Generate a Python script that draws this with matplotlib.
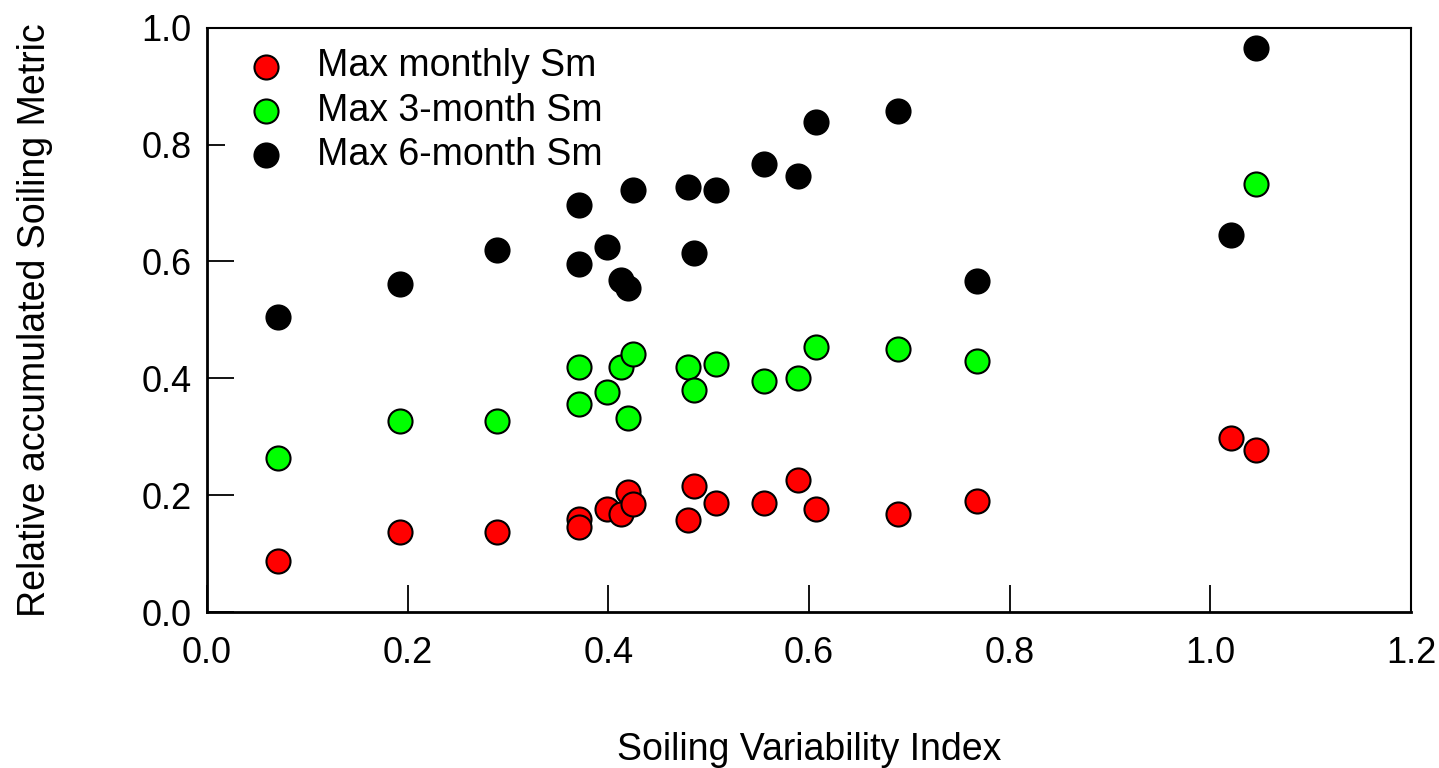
import matplotlib
matplotlib.use('Agg')
import matplotlib.pyplot as plt
from matplotlib.ticker import FormatStrFormatter

plt.rcParams['font.family'] = ['Liberation Sans', 'DejaVu Sans']

# Soiling Variability Index per site
svi_monthly = [0.071, 0.192, 0.289, 0.371, 0.371, 0.399, 0.413, 0.420, 0.425, 0.479,
               0.485, 0.507, 0.555, 0.589, 0.607, 0.689, 0.768, 1.021, 1.046]
sm_monthly = [0.088, 0.137, 0.137, 0.160, 0.146, 0.177, 0.168, 0.206, 0.185, 0.157,
              0.215, 0.186, 0.186, 0.226, 0.176, 0.167, 0.190, 0.298, 0.278]

svi_3month = [0.071, 0.192, 0.289, 0.371, 0.371, 0.399, 0.413, 0.420, 0.425, 0.479,
              0.485, 0.507, 0.555, 0.589, 0.607, 0.689, 0.768, 1.046]
sm_3month = [0.264, 0.327, 0.327, 0.420, 0.356, 0.376, 0.420, 0.332, 0.441, 0.420,
             0.380, 0.425, 0.396, 0.400, 0.454, 0.450, 0.430, 0.732]

svi_6month = [0.071, 0.192, 0.289, 0.371, 0.371, 0.399, 0.413, 0.420, 0.425, 0.479,
              0.485, 0.507, 0.555, 0.589, 0.607, 0.689, 0.768, 1.021, 1.046]
sm_6month = [0.505, 0.561, 0.620, 0.697, 0.596, 0.625, 0.568, 0.554, 0.722, 0.727,
             0.615, 0.722, 0.766, 0.746, 0.838, 0.858, 0.566, 0.646, 0.965]

x_ticks = [0.0, 0.2, 0.4, 0.6, 0.8, 1.0, 1.2]
y_ticks = [0.0, 0.2, 0.4, 0.6, 0.8, 1.0]

FS = 26
FS_LABEL = 27

fig = plt.figure(figsize=(14.39, 7.68), dpi=100)
ax = fig.add_axes([0.1438, 0.203, 0.8367, 0.761])

kw = dict(s=300, edgecolors='black', linewidths=1.5, zorder=3)
ax.scatter(svi_monthly, sm_monthly, c='#ff0000', label='Max monthly Sm', **kw)
ax.scatter(svi_3month, sm_3month, c='#00ff00', label='Max 3-month Sm', **kw)
ax.scatter(svi_6month, sm_6month, c='black', label='Max 6-month Sm', **kw)

ax.set_xlim(0, 1.2)
ax.set_ylim(0, 1.0)
ax.set_xticks(x_ticks)
ax.set_yticks(y_ticks)
ax.xaxis.set_major_formatter(FormatStrFormatter('%.1f'))
ax.yaxis.set_major_formatter(FormatStrFormatter('%.1f'))
ax.tick_params(direction='in', length=19.5, width=1.3, labelsize=FS, colors='black')
ax.tick_params(axis='x', pad=17)
ax.tick_params(axis='y', pad=11)

for side in ['left', 'bottom']:
    ax.spines[side].set_linewidth(2.0)
for side in ['top', 'right']:
    ax.spines[side].set_linewidth(1.5)

ax.set_xlabel('Soiling Variability Index', fontsize=FS_LABEL)
ax.set_ylabel('Relative accumulated Soiling Metric', fontsize=FS_LABEL)
ax.xaxis.set_label_coords(0.5, -0.205)
ax.yaxis.set_label_coords(-0.128, 0.5)

leg = ax.legend(loc='upper left', bbox_to_anchor=(0.015, 0.99), borderaxespad=0,
                fontsize=FS_LABEL, frameon=True, facecolor='white', edgecolor='none',
                framealpha=1, borderpad=0.4, handlelength=1.4, handletextpad=0.65,
                labelspacing=0.22, markerscale=1.0, fancybox=False)
leg.set_zorder(2)

plt.savefig('out.png', dpi=100, facecolor='white')
